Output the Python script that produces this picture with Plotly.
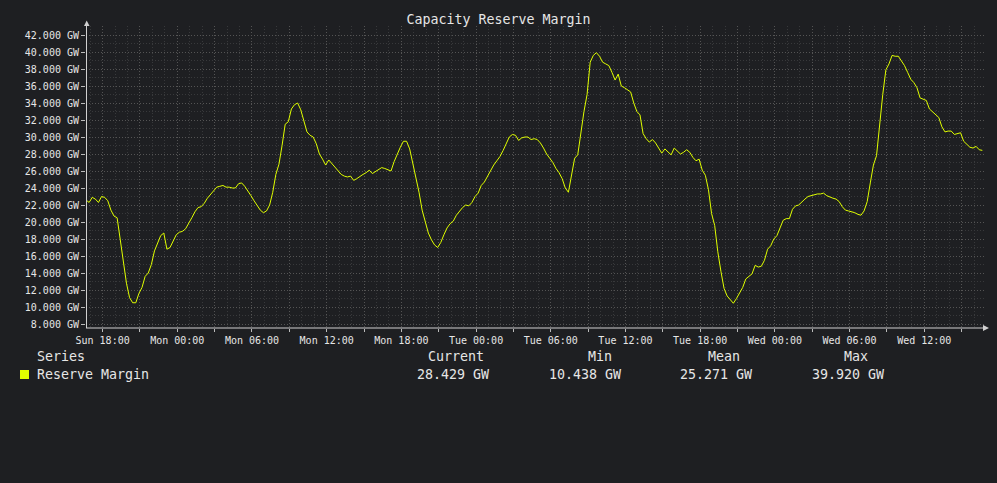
import pandas as pd
import plotly.graph_objects as go

# ---------------- data ----------------
start_time = "2024-03-03 16:40"   # Sunday
step_minutes = 15
reserve_margin_gw = [
    22.6, 22.3, 22.9, 22.7, 22.3, 23.0, 22.9, 22.5, 21.4, 20.7, 20.5, 18.0,
    15.0, 12.8, 11.1, 10.5, 10.5, 11.6, 12.3, 13.6, 14.0, 15.0, 16.6, 17.4,
    18.4, 18.7, 16.8, 17.0, 17.8, 18.5, 18.8, 18.9, 19.2, 19.8, 20.5, 21.2,
    21.7, 21.8, 22.2, 22.8, 23.2, 23.6, 24.1, 24.2, 24.3, 24.1, 24.1, 24.0,
    24.0, 24.5, 24.6, 24.2, 23.7, 23.1, 22.5, 21.9, 21.4, 21.1, 21.3, 22.0,
    23.5, 25.6, 26.8, 29.0, 31.5, 31.8, 33.3, 33.8, 34.0, 33.2, 32.0, 30.6,
    30.2, 30.0, 29.2, 28.0, 27.4, 26.7, 27.3, 26.9, 26.5, 26.0, 25.6, 25.4,
    25.3, 25.4, 24.9, 25.1, 25.4, 25.6, 25.8, 26.1, 25.7, 25.9, 26.2, 26.4,
    26.3, 26.1, 26.0, 27.1, 28.0, 28.8, 29.5, 29.5, 28.6, 27.0, 25.3, 23.5,
    21.4, 19.9, 18.7, 17.9, 17.3, 17.0, 17.6, 18.5, 19.3, 19.8, 20.1, 20.8,
    21.3, 21.7, 22.0, 21.9, 22.3, 23.0, 23.4, 24.3, 24.7, 25.4, 26.1, 26.7,
    27.2, 27.7, 28.4, 29.2, 30.0, 30.3, 30.2, 29.6, 29.9, 30.0, 30.0, 29.7,
    29.8, 29.7, 29.3, 28.7, 28.0, 27.5, 27.0, 26.3, 25.8, 25.1, 24.0, 23.5,
    25.5, 27.5, 27.9, 30.5, 33.0, 35.0, 38.8, 39.6, 39.92, 39.5, 38.8, 38.6,
    38.4, 37.6, 36.7, 37.4, 36.0, 35.8, 35.5, 35.3, 34.0, 33.0, 32.6, 30.4,
    29.8, 29.4, 29.7, 29.3, 28.7, 28.1, 28.6, 28.2, 27.9, 28.7, 28.3, 28.0,
    28.2, 28.5, 28.2, 27.6, 27.2, 27.4, 26.1, 25.5, 23.8, 21.0, 19.6, 16.5,
    14.2, 12.2, 11.3, 10.8, 10.438, 11.0, 11.7, 12.3, 13.3, 13.6, 13.9, 14.9,
    14.7, 14.8, 15.5, 16.8, 17.2, 18.0, 18.4, 19.3, 20.2, 20.4, 20.4, 21.5,
    21.9, 22.0, 22.4, 22.7, 23.0, 23.1, 23.2, 23.3, 23.3, 23.4, 23.1, 22.9,
    22.8, 22.7, 22.4, 21.8, 21.4, 21.3, 21.2, 21.1, 20.9, 20.8, 21.3, 22.4,
    24.6, 26.7, 27.8, 31.5, 35.0, 37.9, 38.6, 39.6, 39.5, 39.5, 39.0, 38.4,
    37.6, 36.8, 36.4, 35.8, 34.6, 34.4, 34.3, 33.3, 33.0, 32.7, 32.3, 31.2,
    30.6, 30.7, 30.7, 30.3, 30.4, 30.5, 29.5, 29.2, 28.8, 28.7, 28.9, 28.5,
    28.429,
]
times = pd.date_range(start_time, periods=len(reserve_margin_gw),
                      freq=f"{step_minutes}min")

series_name = "Reserve Margin"
stat_headers = ["Current", "Min", "Mean", "Max"]
stat_values = [28.429, 10.438, 25.271, 39.920]

tick_times = pd.date_range("2024-03-03 18:00", "2024-03-06 15:00", freq="3h")
tick_labels = [t.strftime("%a %H:%M") if t.hour % 6 == 0 else "" for t in tick_times]

# ---------------- layout helpers ----------------
W, H = 997, 483
L, R, T, B = 86, 984, 26, 328        # plot area in pixels
def px(x):
    return (x - L) / (R - L)
def py(y):
    return (B - y) / (B - T)

BG = "#1e1f22"
LINE = "#e0ff00"
FONT = "DejaVu Sans Mono"
TXT = "#e6e6e6"

fig = go.Figure()
fig.add_trace(go.Scatter(
    x=times, y=reserve_margin_gw, mode="lines", name=series_name,
    line=dict(color=LINE, width=1), showlegend=False,
))

fig.update_layout(
    width=W, height=H,
    margin=dict(l=L, r=W - R, t=T, b=H - B),
    paper_bgcolor=BG, plot_bgcolor=BG,
    font=dict(family=FONT, color=TXT, size=10),
    title=dict(text="Capacity Reserve Margin", x=0.5, xanchor="center",
               y=1 - 19 / H, yanchor="middle",
               font=dict(family=FONT, size=13.3, color=TXT)),
    xaxis=dict(
        range=["2024-03-03 16:40", "2024-03-06 16:48"],
        tickvals=tick_times, ticktext=tick_labels,
        showgrid=True, gridcolor="#545454", griddash="1px,2px", gridwidth=1,
        ticks="outside", ticklen=3, tickcolor="#bbbbbb",
        tickfont=dict(family=FONT, size=10, color=TXT),
        showline=False, zeroline=False,
        minor=dict(dtick=3600000, tick0="2024-03-03 00:00", showgrid=True,
                   gridcolor="#38393b", griddash="1px,2px", gridwidth=1),
    ),
    yaxis=dict(
        range=[7.53, 43.06], dtick=2, tick0=0,
        tickformat=".3f", ticksuffix=" GW",
        showgrid=True, gridcolor="#545454", griddash="1px,2px", gridwidth=1,
        ticks="outside", ticklen=4, tickcolor="#bbbbbb",
        tickfont=dict(family=FONT, size=10, color=TXT),
        showline=False, zeroline=False,
        minor=dict(dtick=1, tick0=0, showgrid=True,
                   gridcolor="#38393b", griddash="1px,2px", gridwidth=1),
    ),
)

AX = "#d0d0d0"
shapes = [
    # y axis line + arrow
    dict(type="line", xref="paper", yref="paper", x0=px(86.5), x1=px(86.5),
         y0=py(328), y1=py(24), line=dict(color=AX, width=1)),
    dict(type="path", xref="paper", yref="paper",
         path=f"M {px(84)} {py(26)} L {px(89.5)} {py(26)} L {px(86.7)} {py(20.5)} Z",
         fillcolor=AX, line=dict(color=AX, width=0)),
    # x axis line + arrow
    dict(type="line", xref="paper", yref="paper", x0=px(86), x1=px(985),
         y0=py(328), y1=py(328), line=dict(color=AX, width=1)),
    dict(type="path", xref="paper", yref="paper",
         path=f"M {px(983)} {py(325)} L {px(983)} {py(331)} L {px(989)} {py(328)} Z",
         fillcolor=AX, line=dict(color=AX, width=0)),
    # legend swatch
    dict(type="rect", xref="paper", yref="paper", x0=px(20), x1=px(29),
         y0=py(379), y1=py(370), fillcolor=LINE, line=dict(width=0)),
]
fig.update_layout(shapes=shapes)

ann_font = dict(family=FONT, size=13.3, color=TXT)
anns = [
    dict(text="Series", x=px(35), y=py(356), xanchor="left", yanchor="middle"),
    dict(text=series_name, x=px(35), y=py(374), xanchor="left", yanchor="middle"),
]
header_x = [455.5, 600, 723.5, 856]
value_x = [452.5, 584.5, 716, 848]
for hx, vx, h, v in zip(header_x, value_x, stat_headers, stat_values):
    anns.append(dict(text=h, x=px(hx), y=py(356), xanchor="center", yanchor="middle"))
    anns.append(dict(text=f"{v:.3f} GW", x=px(vx), y=py(374),
                     xanchor="center", yanchor="middle"))
for a in anns:
    a.update(xref="paper", yref="paper", showarrow=False, font=ann_font)
fig.update_layout(annotations=anns)

fig.write_html(
    "out.html",
    config={"displayModeBar": False},
    post_script="document.body.style.margin='0';document.body.style.background='%s';" % BG,
)
